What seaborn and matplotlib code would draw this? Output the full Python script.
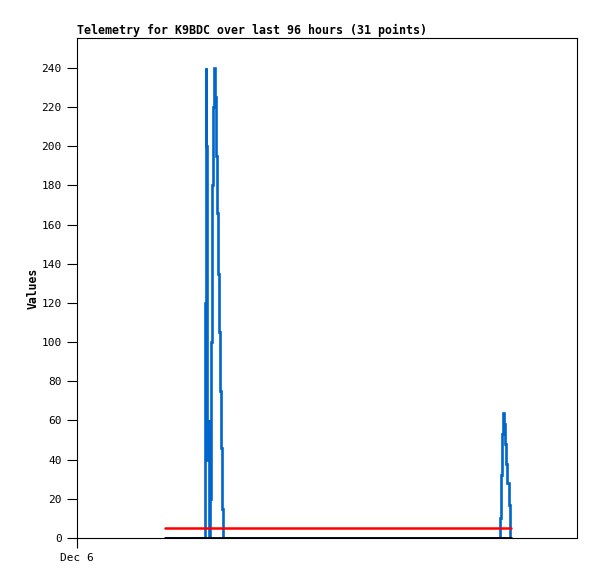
import numpy as np
import pandas as pd
import matplotlib
matplotlib.use("Agg")
import matplotlib.pyplot as plt
import seaborn as sns

# hours since Dec 6 00:00, telemetry values (blue channel)
blue_hours = [16.90, 24.58, 24.71, 24.86, 24.96, 25.25, 25.34, 25.63, 25.73, 25.86,
              25.98, 26.11, 26.30, 26.50, 26.65, 26.84, 27.03, 27.26, 27.46, 27.65,
              27.84, 28.03, 81.31, 81.50, 81.66, 81.85, 81.98, 82.18, 82.37, 82.56,
              82.85, 83.14, 83.33]
blue_values = [0, 120, 240, 200, 40, 60, 0, 20, 100, 140,
               180, 220, 240, 225, 195, 166, 135, 105, 75, 46,
               15, 0, 10, 32, 53, 64, 58, 48, 38, 28,
               17, 0, 0]

# flat channels
flat_hours = [16.90, 83.33]
red_values = [5, 5]
black_values = [0, 0]

y_ticks = list(range(0, 241, 20))
x_tick_labels = ["Dec 6"]

sns.set_style("ticks")
plt.rcParams['font.family'] = ['DejaVu Sans Mono']
plt.rcParams['text.color'] = 'black'
plt.rcParams['xtick.color'] = 'black'
plt.rcParams['ytick.color'] = 'black'
plt.rcParams['axes.labelcolor'] = 'black'

fig = plt.figure(figsize=(5.97, 5.79), dpi=100)
ax = fig.add_axes([77 / 597, 41 / 579, 500 / 597, 500 / 579])

blue = pd.DataFrame({"hours": blue_hours, "value": blue_values})
flat = pd.DataFrame({"hours": flat_hours, "red": red_values, "black": black_values})

sns.lineplot(data=blue, x="hours", y="value", ax=ax, color="#0066cc",
             linewidth=1.9, drawstyle="steps-post", estimator=None, sort=False,
             solid_joinstyle="miter")
sns.lineplot(data=flat, x="hours", y="red", ax=ax, color="#ff0000", linewidth=1.8)
sns.lineplot(data=flat, x="hours", y="black", ax=ax, color="#000000", linewidth=2.0)

ax.set_xlim(0, 96)
ax.set_ylim(0, 255.3)
ax.set_yticks(y_ticks)
ax.set_yticklabels([str(t) for t in y_ticks], fontsize=8)
ax.set_xticks([0])
ax.set_xticklabels(x_tick_labels, fontsize=8)
ax.tick_params(axis="both", length=7, width=0.8, pad=4)

for s in ax.spines.values():
    s.set_linewidth(0.8)
    s.set_color("black")

ax.set_xlabel("")
ax.set_ylabel("Values", fontsize=8.3, fontweight="bold", labelpad=1)
ax.set_title("Telemetry for K9BDC over last 96 hours (31 points)",
             loc="left", fontsize=8.4, fontweight="bold", pad=3)

fig.savefig("out.png", dpi=100, facecolor="white")
